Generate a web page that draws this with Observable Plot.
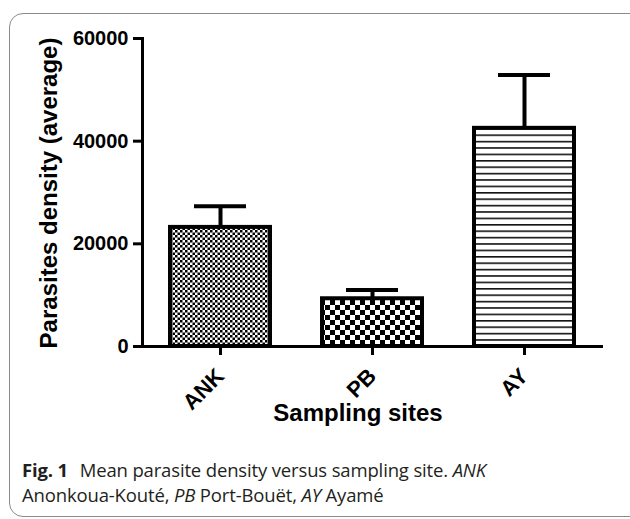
<!DOCTYPE html>
<html>
<head>
<meta charset="utf-8">
<script src="https://cdn.jsdelivr.net/npm/d3@7"></script>
<script src="https://cdn.jsdelivr.net/npm/@observablehq/plot@0.6"></script>
<style>
  html, body { margin: 0; padding: 0; background: #fff; width: 630px; height: 519px; overflow: hidden; }
  #frame { position: absolute; left: 9px; top: 13px; width: 660px; height: 504px; border: 1.4px solid #8a8a8a; border-radius: 14px; box-sizing: border-box; }
  #chart { position: absolute; left: 0; top: 0; }
  #caption { position: absolute; left: 22px; top: 457px; font-family: "Open Sans", sans-serif; font-size: 18.5px; line-height: 25px; color: #231f20; letter-spacing: -0.15px; }
  #caption b { font-weight: 700; margin-right: 7px; }
</style>
</head>
<body>
<div id="frame"></div>
<div id="chart"></div>
<div id="caption"><b>Fig. 1</b> Mean parasite density versus sampling site. <i>ANK</i><br>Anonkoua-Kouté, <i>PB</i> Port-Bouët, <i>AY</i> Ayamé</div>
<script>
const sites = ["ANK", "PB", "AY"];
const means = [23200, 9300, 42500];
const errors = [4100, 1700, 10400];
const patterns = ["url(#pat-ank)", "url(#pat-pb)", "url(#pat-ay)"];
const yTicks = [0, 20000, 40000, 60000];
const yLabel = "Parasites density (average)";
const xLabel = "Sampling sites";

const data = sites.map((s, i) => ({site: s, mean: means[i], top: means[i] + errors[i], pattern: patterns[i]}));

const bars = data.map(d => Plot.barY([d], {x: "site", y: "mean", fill: d.pattern, stroke: "black", strokeWidth: 4}));

const plot = Plot.plot({
  width: 630,
  height: 440,
  marginLeft: 142,
  marginRight: 27,
  marginTop: 38,
  marginBottom: 94,
  style: {fontFamily: "'Liberation Sans', Arial, sans-serif", fontWeight: "bold", color: "black", background: "transparent", overflow: "visible"},
  x: {domain: sites, paddingInner: 0.34, paddingOuter: 0.183, label: null},
  y: {domain: [0, 60000], label: null},
  marks: [
    Plot.axisY({ticks: yTicks, tickSize: 9, tickPadding: 5, strokeWidth: 3, fontSize: 20, fontWeight: "bold", label: null, tickFormat: d3.format("d")}),
    Plot.axisX({tickSize: 9, tickPadding: 17, tickRotate: -45, strokeWidth: 3, fontSize: 22, fontWeight: "bold", label: null}),
    Plot.ruleX(data, {x: "site", y1: "mean", y2: "top", strokeWidth: 4}),
    Plot.tickY(data, {x: "site", y: "top", strokeWidth: 4, insetLeft: 24, insetRight: 24}),
    ...bars,
    Plot.frame({anchor: "left", strokeWidth: 3}),
    Plot.ruleY([0], {strokeWidth: 3})
  ]
});

const svg = d3.select(plot);
const defs = svg.insert("defs", ":first-child");
// ANK: fine checkerboard
const pa = defs.append("pattern").attr("id", "pat-ank").attr("patternUnits", "userSpaceOnUse").attr("width", 5).attr("height", 5);
pa.append("rect").attr("width", 5).attr("height", 5).attr("fill", "white");
pa.append("rect").attr("width", 2.5).attr("height", 2.5).attr("fill", "black");
pa.append("rect").attr("x", 2.5).attr("y", 2.5).attr("width", 2.5).attr("height", 2.5).attr("fill", "black");
// PB: coarse checkerboard
const pb = defs.append("pattern").attr("id", "pat-pb").attr("patternUnits", "userSpaceOnUse").attr("width", 10).attr("height", 10);
pb.append("rect").attr("width", 10).attr("height", 10).attr("fill", "white");
pb.append("rect").attr("width", 5).attr("height", 5).attr("fill", "black");
pb.append("rect").attr("x", 5).attr("y", 5).attr("width", 5).attr("height", 5).attr("fill", "black");
// AY: horizontal lines
const py = defs.append("pattern").attr("id", "pat-ay").attr("patternUnits", "userSpaceOnUse").attr("width", 10).attr("height", 6.4);
py.append("rect").attr("width", 10).attr("height", 6.4).attr("fill", "white");
py.append("rect").attr("y", 0).attr("width", 10).attr("height", 1.6).attr("fill", "#111");

svg.append("text")
  .attr("transform", "translate(57,193) rotate(-90)")
  .attr("text-anchor", "middle")
  .attr("font-size", 24).attr("font-weight", "bold")
  .attr("font-family", "'Liberation Sans', Arial, sans-serif")
  .text(yLabel);
svg.append("text")
  .attr("x", 358).attr("y", 421)
  .attr("text-anchor", "middle")
  .attr("font-size", 24).attr("font-weight", "bold")
  .attr("font-family", "'Liberation Sans', Arial, sans-serif")
  .text(xLabel);

document.getElementById("chart").appendChild(plot);
</script>
</body>
</html>
